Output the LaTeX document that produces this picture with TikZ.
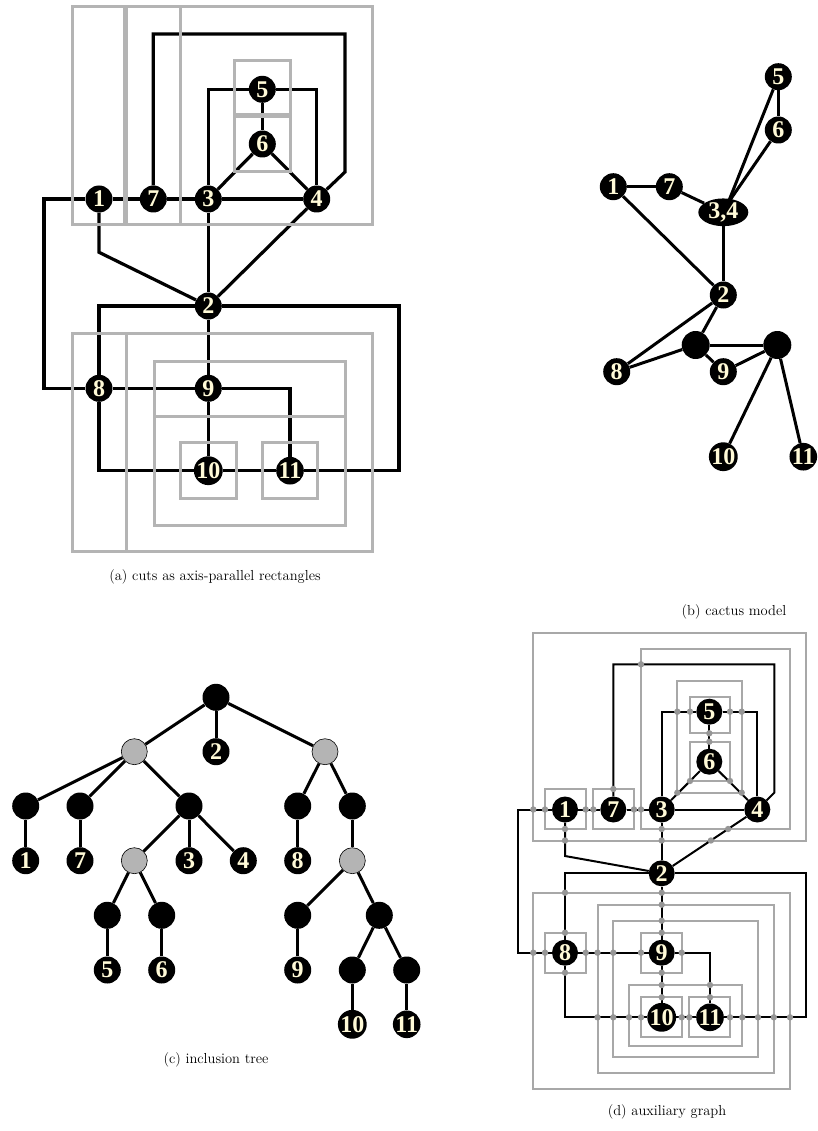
\documentclass[tikz,border=0pt]{standalone}
\usepackage{fontspec}
\newfontfamily\lbl{Liberation Serif}
\usetikzlibrary{shapes.geometric}
\definecolor{cream}{RGB}{255,250,215}
\definecolor{rgray}{RGB}{180,180,180}
\definecolor{dgray}{RGB}{168,168,168}
\definecolor{dotgray}{RGB}{150,150,150}
\definecolor{ngray}{RGB}{180,180,180}
\pgfdeclarelayer{bgzero}
\pgfdeclarelayer{bgone}
\pgfdeclarelayer{bgtwo}
\pgfsetlayers{bgzero,bgone,bgtwo,main}
\begin{document}
\begin{tikzpicture}[x=1pt,y=-1pt,
  vtx/.style={circle,fill=black,inner sep=0pt,minimum size=27pt,text=cream,
              font=\lbl\bfseries\fontsize{24}{24}\selectfont},
  dvtx/.style={vtx,minimum size=26pt},
  bigvtx/.style={circle,fill=black,inner sep=0pt,minimum size=28pt},
  grayvtx/.style={circle,fill=ngray,draw=black,line width=0.6pt,inner sep=0pt,minimum size=26pt},
  blankvtx/.style={circle,fill=black,inner sep=0pt,minimum size=27pt},
  aedge/.style={line width=3.2pt,black},
  arect/.style={line width=3pt,draw=rgray},
  tedge/.style={line width=3pt,black},
  dedge/.style={line width=2pt,black},
  drect/.style={line width=2pt,draw=dgray},
  gdot/.style={fill=dotgray},
  captext/.style={font=\fontsize{14.5}{17}\selectfont,inner sep=0pt}
]
\useasboundingbox (0,0) rectangle (817,1131);

%% ================= (a) =================
\node[vtx] (a1) at (99,199) {1};
\node[vtx] (a7) at (153.3,199) {7};
\node[vtx] (a3) at (208.3,199) {3};
\node[vtx] (a4) at (316.7,199) {4};
\node[vtx] (a5) at (262.3,89.3) {5};
\node[vtx] (a6) at (262.3,144) {6};
\node[vtx] (a2) at (208.3,306) {2};
\node[vtx] (a8) at (99,388.3) {8};
\node[vtx] (a9) at (208.3,388.3) {9};
\node[vtx] (a10) at (208.3,470.7) {10};
\node[vtx] (a11) at (290,470.7) {11};
\coordinate (aL1) at (44,199);
\coordinate (aL2) at (44,388.3);
\coordinate (aT1) at (345,34);
\coordinate (aT2) at (345,172);
\coordinate (aD1) at (99,252.3);
\coordinate (aR1) at (399,306);
\coordinate (aR2) at (399,470.7);
\begin{pgfonlayer}{bgone}
\draw[aedge] (a1) -- (a7);
\draw[aedge] (a7) -- (a3);
\draw[aedge] (a3) -- (a4);
\draw[aedge] (a1) -- (aL1) -- (aL2) -- (a8);
\draw[aedge] (a7) |- (aT1) -- (aT2) -- (a4);
\draw[aedge] (a3) |- (a5);
\draw[aedge] (a5) -| (a4);
\draw[aedge] (a5) -- (a6);
\draw[aedge] (a6) -- (a3);
\draw[aedge] (a6) -- (a4);
\draw[aedge] (a1) -- (aD1) -- (a2);
\draw[aedge] (a3) -- (a2);
\draw[aedge] (a4) -- (a2);
\draw[aedge] (a2) -| (a8);
\draw[aedge] (a2) -- (aR1) -- (aR2) -- (a11);
\draw[aedge] (a2) -- (a9);
\draw[aedge] (a8) -- (a9);
\draw[aedge] (a9) -- (a10);
\draw[aedge] (a9) -| (a11);
\draw[aedge] (a8) |- (a10);
\draw[aedge] (a10) -- (a11);
\end{pgfonlayer}
\begin{pgfonlayer}{bgtwo}
\draw[arect] (72,7) rectangle (124,225);
\draw[arect] (126,7) rectangle (180.5,225);
\draw[arect] (126,7) rectangle (372,225);
\draw[arect] (234.3,61) rectangle (290.7,115);
\draw[arect] (234.3,116.7) rectangle (290.7,171.7);
\draw[arect] (72,333.3) rectangle (126,551.7);
\draw[arect] (126,333.3) rectangle (372,551.7);
\draw[arect] (154,361) rectangle (345,416);
\draw[arect] (154,416) rectangle (345,525);
\draw[arect] (180.7,442.7) rectangle (236,498.3);
\draw[arect] (262.3,442.7) rectangle (317.3,498.3);
\end{pgfonlayer}
\node[captext] (capa) at (215,577) {(a) cuts as axis-parallel rectangles};

%% ================= (b) =================
\node[vtx] (b5) at (778.3,76.7) {5};
\node[vtx] (b6) at (778.3,130) {6};
\node[vtx] (b1) at (613.3,186.7) {1};
\node[vtx] (b7) at (669.3,186.7) {7};
\node[ellipse,fill=black,inner sep=0pt,minimum width=50pt,minimum height=22pt,text=cream,
      font=\lbl\bfseries\fontsize{24}{24}\selectfont] (b34) at (723.3,212.3) {3,4};
\node[vtx] (b2) at (723.3,295) {2};
\node[bigvtx] (bA) at (695.7,345) {};
\node[bigvtx] (bB) at (777.3,345) {};
\node[vtx] (b8) at (616.7,371.7) {8};
\node[vtx] (b9) at (723.3,371.7) {9};
\node[vtx] (b10) at (723.3,456.7) {10};
\node[vtx] (b11) at (803.3,456.7) {11};
\coordinate (b34t) at (728,203);
\begin{pgfonlayer}{bgone}
\draw[tedge] (b5) -- (b6);
\draw[tedge] (b5) -- (b34t);
\draw[tedge] (b6) -- (b34t);
\draw[tedge] (b1) -- (b7);
\draw[tedge] (b7) -- (b34);
\draw[tedge] (b1) -- (b2);
\draw[tedge] (b34) -- (b2);
\draw[tedge] (b2) -- (bA);
\draw[tedge] (b2) -- (b8);
\draw[tedge] (b8) -- (bA);
\draw[tedge] (bA) -- (b9);
\draw[tedge] (bA) -- (bB);
\draw[tedge] (b9) -- (bB);
\draw[tedge] (bB) -- (b10);
\draw[tedge] (bB) -- (b11);
\end{pgfonlayer}
\node[captext] (capb) at (734,612) {(b) cactus model};

%% ================= (c) =================
\node[blankvtx] (c0) at (216,697.3) {};
\node[grayvtx] (cgL) at (134.3,751.7) {};
\node[vtx] (c2) at (216,751.7) {2};
\node[grayvtx] (cgR) at (325,751.7) {};
\node[blankvtx] (cA) at (25.7,806) {};
\node[blankvtx] (cB) at (80,806) {};
\node[blankvtx] (cC) at (189,806) {};
\node[blankvtx] (cD) at (297.7,806) {};
\node[blankvtx] (cE) at (352.3,806) {};
\node[vtx] (c1) at (25.7,860.7) {1};
\node[vtx] (c7) at (80,860.7) {7};
\node[grayvtx] (cgM) at (134.3,860.7) {};
\node[vtx] (c3) at (189,860.7) {3};
\node[vtx] (c4) at (243.3,860.7) {4};
\node[vtx] (c8) at (297.7,860.7) {8};
\node[grayvtx] (cgN) at (352.3,860.7) {};
\node[blankvtx] (cF) at (107.3,915.3) {};
\node[blankvtx] (cG) at (161.7,915.3) {};
\node[blankvtx] (cH) at (297.7,915.3) {};
\node[blankvtx] (cI) at (379.3,915.3) {};
\node[vtx] (c5) at (107.3,970) {5};
\node[vtx] (c6) at (161.7,970) {6};
\node[vtx] (c9) at (297.7,970) {9};
\node[blankvtx] (cJ) at (352.3,970) {};
\node[blankvtx] (cK) at (406.7,970) {};
\node[vtx] (c10) at (352.3,1024.3) {10};
\node[vtx] (c11) at (406.7,1024.3) {11};
\begin{pgfonlayer}{bgone}
\foreach \p/\q in {c0/cgL,c0/c2,c0/cgR,cgL/cA,cgL/cB,cgL/cC,cA/c1,cB/c7,cC/cgM,cC/c3,cC/c4,
  cgM/cF,cgM/cG,cF/c5,cG/c6,cgR/cD,cgR/cE,cD/c8,cE/cgN,cgN/cH,cgN/cI,cH/c9,cI/cJ,cI/cK,cJ/c10,cK/c11}
  \draw[tedge] (\p) -- (\q);
\end{pgfonlayer}
\node[captext] (capc) at (216,1060) {(c) inclusion tree};

%% ================= (d) =================
\node[dvtx] (d1) at (565,809.5) {1};
\node[dvtx] (d7) at (613.3,809.5) {7};
\node[dvtx] (d3) at (661.7,809.5) {3};
\node[dvtx] (d4) at (757.3,809.5) {4};
\node[dvtx] (d5) at (709.3,711.7) {5};
\node[dvtx] (d6) at (709.3,761.7) {6};
\node[dvtx] (d2) at (661.7,873.3) {2};
\node[dvtx] (d8) at (565,952.7) {8};
\node[dvtx] (d9) at (661.7,952.7) {9};
\node[dvtx] (d10) at (661.7,1017.3) {10};
\node[dvtx] (d11) at (710,1017.3) {11};
\coordinate (dL1) at (517.7,809.5);
\coordinate (dL2) at (517.7,952.7);
\coordinate (dT1) at (774.3,664.3);
\coordinate (dT2) at (774.3,792.7);
\coordinate (dD1) at (565,856);
\coordinate (dR1) at (806,873.3);
\coordinate (dR2) at (806,1017.3);
\begin{pgfonlayer}{bgzero}
% upper cuts
\draw[drect] (533.3,633.3) rectangle (805.7,840.5);
\draw[drect] (641,649.3) rectangle (790,829);
\draw[drect] (677.3,681) rectangle (741.7,792.7);
\draw[drect] (690,696.7) rectangle (730,733.3);
\draw[drect] (690,741.7) rectangle (730,781);
\draw[drect] (545,789) rectangle (585.7,829);
\draw[drect] (593.3,789) rectangle (634,829);
% lower cuts
\draw[drect] (533.3,892.7) rectangle (790,1089.3);
\draw[drect] (597.5,904.7) rectangle (773.8,1072.7);
\draw[drect] (613.3,920.7) rectangle (758,1056.7);
\draw[drect] (629,985) rectangle (742.3,1046);
\draw[drect] (545,932.7) rectangle (585.7,972.7);
\draw[drect] (641,932.7) rectangle (681.7,972.7);
\draw[drect] (641,997.3) rectangle (681.7,1036.7);
\draw[drect] (689.3,997.3) rectangle (730,1036.7);
\end{pgfonlayer}
\begin{pgfonlayer}{bgone}
\draw[dedge] (d1) -- (d7);
\draw[dedge] (d7) -- (d3);
\draw[dedge] (d3) -- (d4);
\draw[dedge] (d1) -- (dL1) -- (dL2) -- (d8);
\draw[dedge] (d7) |- (dT1) -- (dT2) -- (d4);
\draw[dedge] (d3) |- (d5);
\draw[dedge] (d5) -| (d4);
\draw[dedge] (d5) -- (d6);
\draw[dedge] (d6) -- (d3);
\draw[dedge] (d6) -- (d4);
\draw[dedge] (d1) -- (dD1) -- (d2);
\draw[dedge] (d3) -- (d2);
\draw[dedge] (d4) -- (d2);
\draw[dedge] (d2) -| (d8);
\draw[dedge] (d2) -- (dR1) -- (dR2) -- (d11);
\draw[dedge] (d2) -- (d9);
\draw[dedge] (d8) -- (d9);
\draw[dedge] (d9) -- (d10);
\draw[dedge] (d9) -| (d11);
\draw[dedge] (d8) |- (d10);
\draw[dedge] (d10) -- (d11);
\end{pgfonlayer}
\begin{pgfonlayer}{bgtwo}
\foreach \x/\y in {533.3/809.5,545/809.5,585.7/809.5,593.3/809.5,634/809.5,641/809.5,
  613.3/789,641/664.3,
  677.3/711.7,690/711.7,730/711.7,741.7/711.7,
  709.3/733.3,709.3/741.7,
  690/781,677.3/792.7,730/781,741.7/792.7,
  565/829,565/840.5,661.7/829,661.7/840.5,728.1/829,710.9/840.5,
  565/892.7,565/932.7,
  661.7/892.7,661.7/904.7,661.7/920.7,661.7/932.7,
  533.3/952.7,545/952.7,585.7/952.7,597.5/952.7,613.3/952.7,641/952.7,681.7/952.7,
  565/972.7,
  661.7/972.7,661.7/985,661.7/997.3,
  710/985,710/997.3,
  597.5/1017.3,613.3/1017.3,629/1017.3,641/1017.3,681.7/1017.3,689.3/1017.3,
  730/1017.3,742.3/1017.3,758/1017.3,773.8/1017.3,790/1017.3}
  \fill[gdot] (\x,\y) circle[radius=3.2pt];
\end{pgfonlayer}
\node[captext] (capd) at (667,1112) {(d) auxiliary graph};
\end{tikzpicture}
\end{document}
